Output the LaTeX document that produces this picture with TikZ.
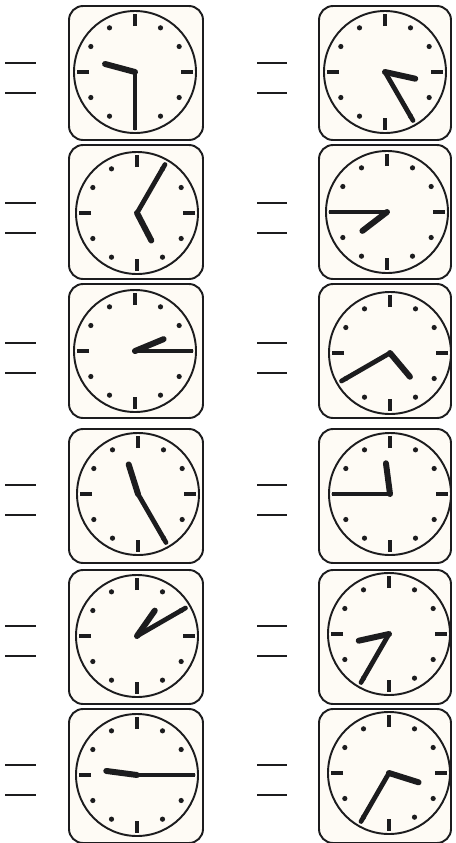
\documentclass[tikz,border=0pt]{standalone}
\usepackage{tikz}
\usetikzlibrary{positioning,calc}
\definecolor{ink}{RGB}{28,28,30}
\definecolor{paper}{RGB}{254,251,245}
\tikzset{
  clockbox/.style={draw=ink,fill=paper,line width=1.1pt,rounded corners=8pt},
  face/.style={draw=ink,line width=1.1pt},
  hourbar/.style={draw=ink,line width=2.4pt},
  hdot/.style={fill=ink},
  hrhand/.style={draw=ink,line width=3.4pt,line cap=round},
  minhand/.style={draw=ink,line width=2.7pt,line cap=round},
  blank/.style={draw=ink,line width=1.1pt},
}
% clock face: centre x, centre y, hours, minutes
\newcommand{\clock}[4]{%
  \begin{scope}[shift={(#1,#2)}]
    \draw[face] (0,0) circle (61);
    \foreach \h in {0,3,6,9}
      \draw[hourbar] (\h*30-90:46) -- (\h*30-90:58);
    \foreach \h in {1,2,4,5,7,8,10,11}
      \fill[hdot] (\h*30-90:51) circle (2.6);
    \pgfmathsetmacro\hang{(#3+#4/60)*30-90}
    \pgfmathsetmacro\mang{#4*6-90}
    \draw[minhand] (0,0) -- (\mang:56);
    \draw[hrhand] (0,0) -- (\hang:31);
  \end{scope}}

\begin{document}
\begin{tikzpicture}[x=0.02cm,y=-0.02cm]
  \useasboundingbox (0,0) rectangle (456,843);
  % boxes and answer blanks
  \foreach \ry/\by in {72/73,212/212,352/351,494/496,635/637,774/776}{
    \draw[clockbox] (69,\by-67) rectangle (203,\by+67);
    \draw[clockbox] (319,\by-67) rectangle (451,\by+67);
    \draw[blank] (5,\ry-9) -- (36,\ry-9);
    \draw[blank] (5,\ry+21) -- (36,\ry+21);
    \draw[blank] (257,\ry-9) -- (287,\ry-9);
    \draw[blank] (257,\ry+21) -- (287,\ry+21);
  }
  % left column
  \clock{135}{72}{9}{30}
  \clock{137}{213}{5}{5}
  \clock{135}{351}{2}{15}
  \clock{138}{494}{11}{25}
  \clock{137}{636}{1}{10}
  \clock{137}{775}{9}{15}
  % right column
  \clock{385}{72}{3}{25}
  \clock{387}{212}{7}{45}
  \clock{390}{353}{4}{40}
  \clock{390}{494}{11}{45}
  \clock{389}{634}{8}{35}
  \clock{389}{773}{3}{35}
\end{tikzpicture}
\end{document}
